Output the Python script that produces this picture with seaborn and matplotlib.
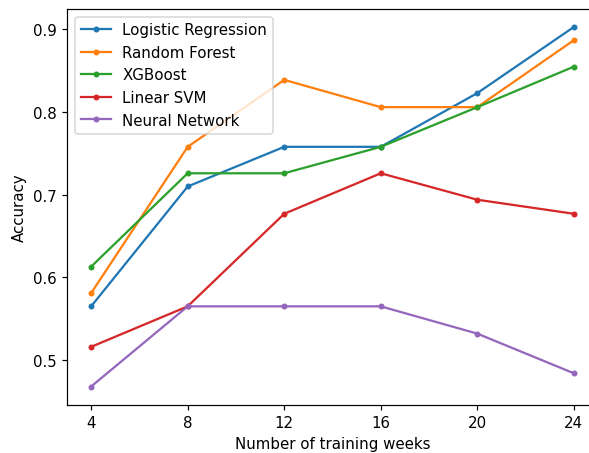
import matplotlib
matplotlib.use("Agg")
import matplotlib.pyplot as plt
import seaborn as sns
import pandas as pd

weeks = [4, 8, 12, 16, 20, 24]
logistic_regression = [0.565, 0.710, 0.758, 0.758, 0.823, 0.903]
random_forest = [0.581, 0.758, 0.839, 0.806, 0.806, 0.887]
xgboost = [0.613, 0.726, 0.726, 0.758, 0.806, 0.855]
linear_svm = [0.516, 0.565, 0.677, 0.726, 0.694, 0.677]
neural_network = [0.468, 0.565, 0.565, 0.565, 0.532, 0.484]

models = {
    "Logistic Regression": logistic_regression,
    "Random Forest": random_forest,
    "XGBoost": xgboost,
    "Linear SVM": linear_svm,
    "Neural Network": neural_network,
}

rows = []
for name, vals in models.items():
    for w, v in zip(weeks, vals):
        rows.append({"Model": name, "Weeks": w, "Accuracy": v})
df = pd.DataFrame(rows)

dpi = 108
fig = plt.figure(figsize=(589 / dpi, 454 / dpi), dpi=dpi)
W, H = 589, 454
ax = fig.add_axes([67 / W, 1 - 405.5 / H, (598 - 67) / W, (405.5 - 10) / H])
sns.lineplot(data=df, x="Weeks", y="Accuracy", hue="Model", marker="o",
             markersize=4, markeredgewidth=0, linewidth=1.5,
             palette="tab10", ax=ax)
ax.set_xticks(weeks)
ax.set_xlabel("Number of training weeks")
ax.set_ylabel("Accuracy")
ax.legend(loc="upper left", title=None)
fig.savefig("out.png", dpi=dpi)
